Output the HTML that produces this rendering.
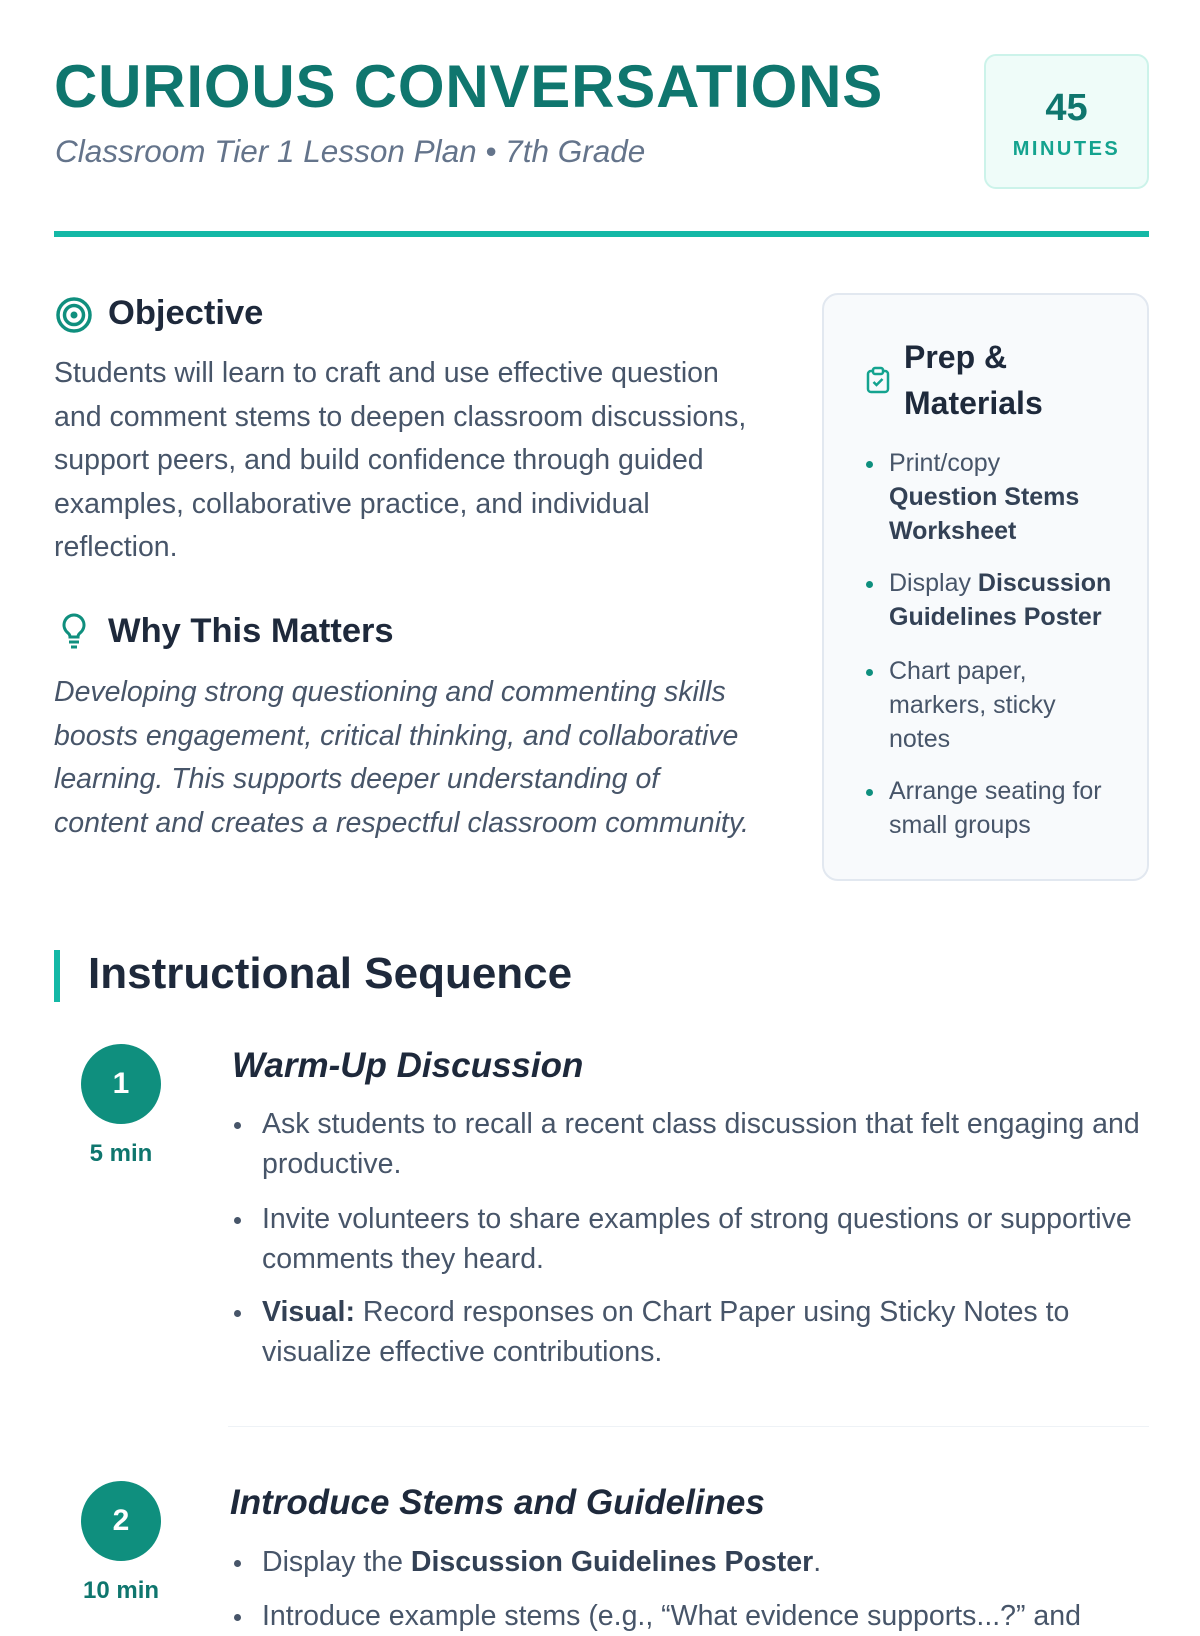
<!DOCTYPE html>
<html><head><meta charset="utf-8"><style>
*{margin:0;padding:0;box-sizing:border-box}
body{width:1200px;height:1600px;overflow:hidden;background:#fff;font-family:"Liberation Sans",sans-serif;position:relative}
.a{position:absolute;white-space:nowrap}
.title{left:54px;top:52px;font-size:60px;font-weight:bold;color:#0f766e;letter-spacing:0.8px}
.sub{left:55px;top:133px;font-size:31.5px;font-style:italic;color:#64748b}
.badge{left:984px;top:54px;width:165px;height:135px;background:#effcf9;border:2px solid #ccf3ea;border-radius:12px;text-align:center}
.rule{left:54px;top:231px;width:1095px;height:6px;background:#14b8a6}
.h2{font-size:34.5px;font-weight:bold;color:#1e293b}
.p{font-size:28.5px;color:#475569;line-height:43.6px;white-space:normal}
.prep{left:822px;top:293px;width:327px;height:588px;background:#f8fafc;border:2px solid #e2e8f0;border-radius:16px}
.pl{font-size:25px;color:#475569;line-height:33.8px;white-space:normal}
.pl b{color:#334155}
.dot{width:7px;height:7px;border-radius:50%;background:#0f8f7e}
.circ{width:80px;height:80px;border-radius:50%;background:#0f8f7e;color:#fff;font-weight:bold;font-size:30px;text-align:center;line-height:80px}
.min{font-size:24px;font-weight:bold;color:#0f766e;text-align:center;width:120px}
.sh{font-size:35px;font-weight:bold;font-style:italic;color:#1e293b}
.bl{font-size:28.5px;color:#475569;line-height:40px;white-space:normal;width:890px}
.bl b{color:#334155}
.bd{width:7px;height:7px;border-radius:50%;background:#475569}
</style></head><body>
<div class="a title">CURIOUS CONVERSATIONS</div>
<div class="a sub">Classroom Tier 1 Lesson Plan • 7th Grade</div>
<div class="a badge"><div style="font-size:38px;font-weight:bold;color:#0f766e;margin-top:30px;line-height:44px">45</div><div style="font-size:20px;font-weight:bold;color:#14a38f;letter-spacing:2.5px;margin-top:8px">MINUTES</div></div>
<div class="a rule"></div>

<svg class="a" style="left:55px;top:296px" width="38" height="38" viewBox="0 0 38 38"><circle cx="19" cy="19" r="16" fill="none" stroke="#0f8f7e" stroke-width="3.5"/><circle cx="19" cy="19" r="9.5" fill="none" stroke="#0f8f7e" stroke-width="3.5"/><circle cx="19" cy="19" r="3.5" fill="#0f8f7e"/></svg>
<div class="a h2" style="left:108px;top:294px">Objective</div>
<div class="a p" style="left:54px;top:352px;width:705px">Students will learn to craft and use effective question and comment stems to deepen classroom discussions, support peers, and build confidence through guided examples, collaborative practice, and individual reflection.</div>

<svg class="a" style="left:60px;top:612px" width="28" height="40" viewBox="0 0 28 40"><path d="M14 3a10 10 0 0 0-6 18c1.5 1.2 2 2.5 2 4h8c0-1.5.5-2.8 2-4a10 10 0 0 0-6-18z" fill="none" stroke="#0f8f7e" stroke-width="3"/><line x1="9" y1="30" x2="19" y2="30" stroke="#0f8f7e" stroke-width="3"/><line x1="11" y1="35" x2="17" y2="35" stroke="#0f8f7e" stroke-width="3"/></svg>
<div class="a h2" style="left:108px;top:612px">Why This Matters</div>
<div class="a p" style="left:54px;top:671px;width:705px;font-style:italic">Developing strong questioning and commenting skills boosts engagement, critical thinking, and collaborative learning. This supports deeper understanding of content and creates a respectful classroom community.</div>

<div class="a prep"></div>
<svg class="a" style="left:866px;top:366px" width="24" height="28" viewBox="0 0 24 28"><rect x="2" y="5" width="20" height="21" rx="3" fill="none" stroke="#14a38f" stroke-width="2.5"/><rect x="7" y="2" width="10" height="6" rx="2" fill="#f8fafc" stroke="#14a38f" stroke-width="2.5"/><path d="M7.5 16l3 3 6-6" fill="none" stroke="#14a38f" stroke-width="2.5"/></svg>
<div class="a" style="left:904px;top:334px;font-size:32px;font-weight:bold;color:#1e293b;line-height:46px">Prep &amp;<br>Materials</div>
<div class="a dot" style="left:866px;top:461px"></div>
<div class="a pl" style="left:889px;top:447px;width:220px">Print/copy <b>Question Stems Worksheet</b></div>
<div class="a dot" style="left:866px;top:581px"></div>
<div class="a pl" style="left:889px;top:567px;width:240px">Display <b>Discussion Guidelines Poster</b></div>
<div class="a dot" style="left:866px;top:669px"></div>
<div class="a pl" style="left:889px;top:655px;width:190px">Chart paper, markers, sticky notes</div>
<div class="a dot" style="left:866px;top:789px"></div>
<div class="a pl" style="left:889px;top:775px;width:240px">Arrange seating for small groups</div>

<div class="a" style="left:54px;top:950px;width:6px;height:52px;background:#14b8a6"></div>
<div class="a" style="left:88px;top:949px;font-size:44px;font-weight:bold;color:#1e293b">Instructional Sequence</div>

<div class="a circ" style="left:81px;top:1044px">1</div>
<div class="a min" style="left:61px;top:1140px">5 min</div>
<div class="a sh" style="left:232px;top:1046px">Warm-Up Discussion</div>
<div class="a bd" style="left:234px;top:1122px"></div>
<div class="a bl" style="left:262px;top:1104px">Ask students to recall a recent class discussion that felt engaging and productive.</div>
<div class="a bd" style="left:234px;top:1217px"></div>
<div class="a bl" style="left:262px;top:1199px">Invite volunteers to share examples of strong questions or supportive comments they heard.</div>
<div class="a bd" style="left:234px;top:1310px"></div>
<div class="a bl" style="left:262px;top:1292px"><b>Visual:</b> Record responses on Chart Paper using Sticky Notes to visualize effective contributions.</div>
<div class="a" style="left:228px;top:1426px;width:921px;height:1px;background:#eef2f6"></div>

<div class="a circ" style="left:81px;top:1481px">2</div>
<div class="a min" style="left:61px;top:1577px">10 min</div>
<div class="a sh" style="left:230px;top:1483px">Introduce Stems and Guidelines</div>
<div class="a bd" style="left:234px;top:1560px"></div>
<div class="a bl" style="left:262px;top:1542px">Display the <b>Discussion Guidelines Poster</b>.</div>
<div class="a bd" style="left:234px;top:1614px"></div>
<div class="a bl" style="left:262px;top:1596px">Introduce example stems (e.g., “What evidence supports...?” and</div>
</body></html>
